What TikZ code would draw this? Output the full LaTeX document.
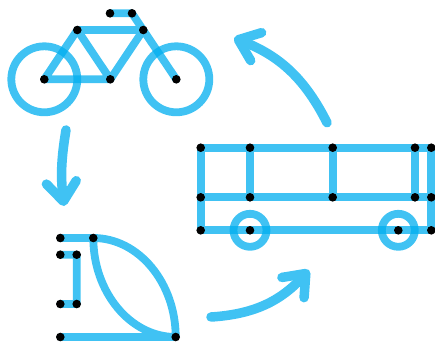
\documentclass[tikz,border=0pt]{standalone}
\usepackage{tikz}
\usetikzlibrary{arrows.meta,backgrounds}
\definecolor{sky}{HTML}{00AEEF}

\begin{document}
\begin{tikzpicture}[x=1pt,y=-1pt,
    >={Straight Barb[length=19pt,width=30pt,round]},
    dot/.style={circle,fill=black,inner sep=0pt,minimum size=8.6pt},
    tube/.style={draw=sky,draw opacity=.75,line width=7.8pt,line cap=round,line join=round},
    flow/.style={->,draw=sky!75,line width=9.5pt,line cap=round,line join=round}]
  \useasboundingbox (0,0) rectangle (435,341);

  \node[dot] (B1) at (110,13.3) {};
  \node[dot] (B2) at (132,13.3) {};
  \node[dot] (B3) at (77.3,30) {};
  \node[dot] (B4) at (143.3,30) {};
  \node[dot] (B5) at (44.3,79.3) {};
  \node[dot] (B6) at (110.3,79.3) {};
  \node[dot] (B7) at (176.3,79.3) {};

  \node[dot] (S1) at (60.3,238) {};
  \node[dot] (S2) at (93.3,238) {};
  \node[dot] (S3) at (60.3,254.7) {};
  \node[dot] (S4) at (76.7,254.7) {};
  \node[dot] (S5) at (60.3,304) {};
  \node[dot] (S6) at (76.7,304) {};
  \node[dot] (S7) at (60.3,337) {};
  \node[dot] (S8) at (175.7,337) {};

  \node[dot] (T1) at (200.7,147.7) {};
  \node[dot] (T2) at (250,147.7) {};
  \node[dot] (T3) at (332.7,147.7) {};
  \node[dot] (T4) at (415,147.7) {};
  \node[dot] (T5) at (431.3,147.7) {};
  \node[dot] (M1) at (200.7,197.3) {};
  \node[dot] (M2) at (250,197.3) {};
  \node[dot] (M3) at (332.7,197.3) {};
  \node[dot] (M4) at (415,197.3) {};
  \node[dot] (M5) at (431.3,197.3) {};
  \node[dot] (L1) at (200.7,230.3) {};
  \node[dot] (L2) at (250,230.3) {};
  \node[dot] (L3) at (398.3,230.3) {};
  \node[dot] (L4) at (431.3,230.3) {};

  \coordinate (A1) at (66,130);
  \coordinate (A2) at (64,206);
  \coordinate (A3) at (211,317);
  \coordinate (A4) at (309,270);
  \coordinate (A5) at (327,122.7);
  \coordinate (A6) at (234,38);

  \begin{scope}[on background layer]
    \draw[tube] (B5.center) circle (33);
    \draw[tube] (B7.center) circle (33);
    \draw[tube] (B1.center) -- (B2.center) -- (B7.center)
      (B5.center) -- (B3.center) -- (B4.center) -- (B6.center) -- cycle
      (B3.center) -- (B6.center);

    \draw[tube] (S1.center) -- (S2.center)
      .. controls (138.8,238) and (175.7,283) .. (S8.center) -- (S7.center)
      (S2.center) .. controls (93.3,292) and (130.2,337) .. (S8.center)
      (S3.center) -- (S4.center) -- (S6.center) -- (S5.center);

    \draw[tube] (T1.center) -- (T5.center) -- (L4.center) -- (L1.center) -- cycle
      (M1.center) -- (M5.center)
      (T2.center) -- (M2.center)
      (T3.center) -- (M3.center)
      (T4.center) -- (M4.center);
    \draw[tube] (L2.center) circle (16.5);
    \draw[tube] (L3.center) circle (16.5);
  \end{scope}

  \draw[flow] (A1) to[bend right=8] (A2);
  \draw[flow] (A3) to[bend right=22] (A4);
  \draw[flow] (A5) to[bend right=21] (A6);
\end{tikzpicture}
\end{document}
